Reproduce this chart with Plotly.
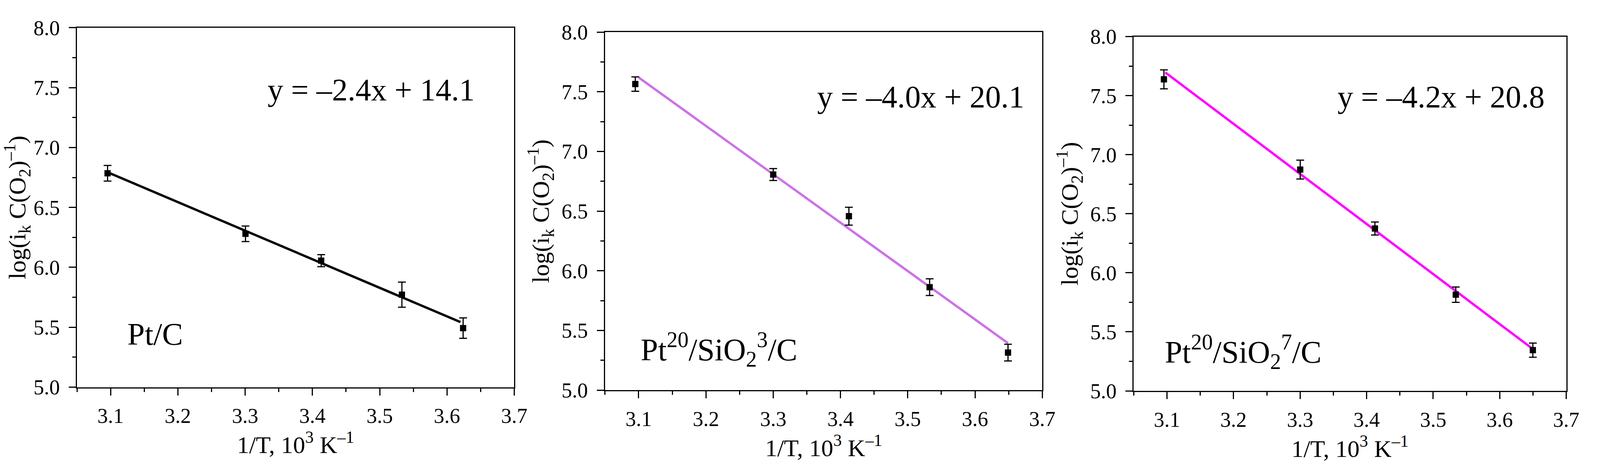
import plotly.graph_objects as go
from plotly.subplots import make_subplots

# datos: 1/T (10^3 K^-1), log(ik C(O2)^-1), error
x_ptc = [3.0955, 3.3005, 3.413, 3.533, 3.624]
y_ptc = [6.785, 6.28, 6.056, 5.772, 5.493]
err_ptc = [0.065, 0.065, 0.05, 0.105, 0.085]
fit_x_ptc = [3.097, 3.62]
fit_y_ptc = [6.79, 5.543]

x_si3 = [3.095, 3.300, 3.4125, 3.5325, 3.649]
y_si3 = [7.565, 6.807, 6.458, 5.863, 5.315]
err_si3 = [0.06, 0.05, 0.075, 0.07, 0.07]
fit_x_si3 = [3.1, 3.649]
fit_y_si3 = [7.62, 5.394]

x_si7 = [3.0954, 3.3002, 3.4125, 3.534, 3.6498]
y_si7 = [7.638, 6.874, 6.375, 5.815, 5.345]
err_si7 = [0.08, 0.08, 0.055, 0.065, 0.06]
fit_x_si7 = [3.0975, 3.6504]
fit_y_si7 = [7.696, 5.352]

ecuaciones = ["y = \u20132.4x + 14.1", "y = \u20134.0x + 20.1", "y = \u20134.2x + 20.8"]
muestras = ["Pt/C", "Pt<sup>20</sup>/SiO<sub>2</sub><sup>3</sup>/C", "Pt<sup>20</sup>/SiO<sub>2</sub><sup>7</sup>/C"]
colores = ["#000000", "#CC72E6", "#FF00FF"]

x_ticks = [3.1, 3.2, 3.3, 3.4, 3.5, 3.6, 3.7]
y_ticks = [5.0, 5.5, 6.0, 6.5, 7.0, 7.5, 8.0]

FUENTE = "Liberation Serif"

paneles = [
    (x_ptc, y_ptc, err_ptc, fit_x_ptc, fit_y_ptc),
    (x_si3, y_si3, err_si3, fit_x_si3, fit_y_si3),
    (x_si7, y_si7, err_si7, fit_x_si7, fit_y_si7),
]
dominios_x = [[0.0485, 0.3241], [0.3813, 0.6569], [0.7145, 0.9871]]
dominios_y = [[0.1602, 0.9635], [0.1535, 0.9535], [0.1519, 0.9436]]
pos_ecuacion = [(3.487, 7.48), (3.519, 7.457), (3.512, 7.489)]
pos_muestra = [(3.1236, 5.443), (3.102, 5.342), (3.0954, 5.33)]

fig = make_subplots(rows=1, cols=3)

for i, (xs, ys, es, fx, fy) in enumerate(paneles):
    col = i + 1
    fig.add_trace(go.Scatter(x=fx, y=fy, mode="lines",
                             line=dict(color=colores[i], width=6),
                             showlegend=False), row=1, col=col)
    fig.add_trace(go.Scatter(x=xs, y=ys, mode="markers",
                             marker=dict(symbol="square", size=16, color="black"),
                             error_y=dict(type="data", array=es, color="black",
                                          thickness=3, width=10),
                             showlegend=False), row=1, col=col)

    sufijo = "" if i == 0 else str(col)
    fig.add_annotation(x=pos_ecuacion[i][0], y=pos_ecuacion[i][1],
                       xref="x" + sufijo, yref="y" + sufijo,
                       text=ecuaciones[i], showarrow=False,
                       xanchor="center", yanchor="middle",
                       font=dict(family=FUENTE, size=80, color="black"))
    fig.add_annotation(x=pos_muestra[i][0], y=pos_muestra[i][1],
                       xref="x" + sufijo, yref="y" + sufijo,
                       text=muestras[i], showarrow=False,
                       xanchor="left", yanchor="middle",
                       font=dict(family=FUENTE, size=80, color="black"))

    fig.update_xaxes(domain=dominios_x[i], range=[3.05, 3.7],
                     tickvals=x_ticks, ticktext=["%.1f" % v for v in x_ticks],
                     ticks="outside", ticklen=18, tickwidth=3, tickcolor="black",
                     ticklabelstandoff=6,
                     minor=dict(dtick=0.05, tick0=3.05, ticks="outside",
                                ticklen=9, tickwidth=3, tickcolor="black"),
                     showline=True, linewidth=3, linecolor="black", mirror=True,
                     showgrid=False, zeroline=False,
                     tickfont=dict(family=FUENTE, size=54, color="black"),
                     title=dict(text="1/T, 10<sup>3</sup> K<sup>\u20131</sup>",
                                font=dict(family=FUENTE, size=62, color="black"),
                                standoff=16),
                     row=1, col=col)
    fig.update_yaxes(domain=dominios_y[i], range=[5.0, 8.0],
                     tickvals=y_ticks, ticktext=["%.1f" % v for v in y_ticks],
                     ticks="outside", ticklen=18, tickwidth=3, tickcolor="black",
                     ticklabelstandoff=12,
                     minor=dict(dtick=0.25, tick0=5.0, ticks="outside",
                                ticklen=9, tickwidth=3, tickcolor="black"),
                     showline=True, linewidth=3, linecolor="black", mirror=True,
                     showgrid=False, zeroline=False,
                     tickfont=dict(family=FUENTE, size=54, color="black"),
                     title=dict(text="log(i<sub>k</sub> C(O<sub>2</sub>)<sup>\u20131</sup>)",
                                font=dict(family=FUENTE, size=62, color="black"),
                                standoff=12),
                     row=1, col=col)

# la figura ocupa toda la ventana
fig.update_layout(autosize=True,
                  margin=dict(l=0, r=0, t=0, b=0),
                  paper_bgcolor="white", plot_bgcolor="white",
                  showlegend=False)

ajuste = ("document.body.style.margin='0';"
          "document.body.style.overflow='hidden';"
          "Plotly.Plots.resize(document.getElementById('{plot_id}'));")

fig.write_html("out.html", default_width="100vw", default_height="100vh",
               config={"responsive": True, "displayModeBar": False},
               post_script=ajuste)
